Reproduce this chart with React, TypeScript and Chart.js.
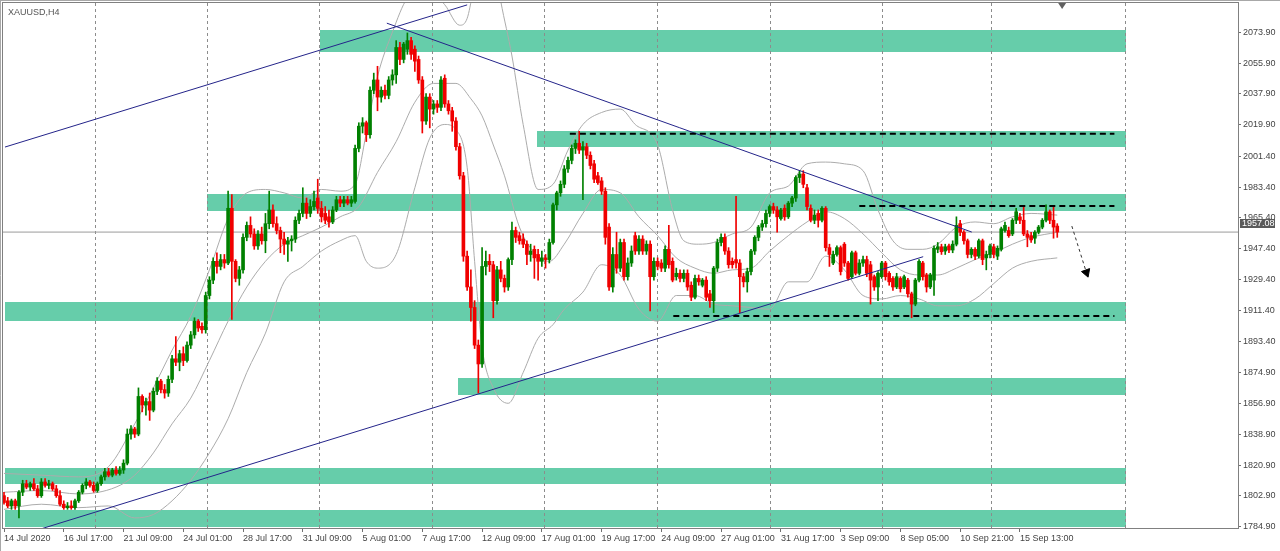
import React, { useEffect, useRef } from "react";
import { Chart, registerables } from "chart.js";

Chart.register(...registerables);

// ---------- axis data ----------
const tickIndex = [0, 16, 32, 48, 64, 80, 96, 112, 128, 144, 160, 176, 192, 208, 224, 240, 256, 272];
const tickLabels = [
  "14 Jul 2020", "16 Jul 17:00", "21 Jul 09:00", "24 Jul 01:00", "28 Jul 17:00", "31 Jul 09:00",
  "5 Aug 01:00", "7 Aug 17:00", "12 Aug 09:00", "17 Aug 01:00", "19 Aug 17:00", "24 Aug 09:00",
  "27 Aug 01:00", "31 Aug 17:00", "3 Sep 09:00", "8 Sep 05:00", "10 Sep 21:00", "15 Sep 13:00",
];
const gridIndex = [24.5, 54.4, 84.6, 114.7, 144.7, 175.0, 205.1, 235.3, 264.3, 300.4];
const priceTicks = [
  2073.9, 2055.9, 2037.9, 2019.9, 2001.4, 1983.4, 1965.4, 1947.4, 1929.4,
  1911.4, 1893.4, 1874.9, 1856.9, 1838.9, 1820.9, 1802.9, 1784.9,
];
const lastPrice = 1957.08;
const xRange = [-0.27, 330.39];
const yRange = [1784.1, 2091.0];

// ---------- candles: [open, high, low, close] per H4 bar ----------
const candles = [
  [1803,1805,1798,1799],[1800,1802,1796,1797],[1797,1801,1795,1800],[1800,1801,1795,1797],[1797,1806,1790,1805],[1805,1812,1803,1810],[1810,1812,1807,1808],[1808,1811,1806,1810],[1810,1813,1806,1807],[1807,1809,1802,1803],
  [1803,1813,1802,1811],[1811,1813,1808,1809],[1809,1812,1807,1810],[1810,1811,1806,1807],[1807,1809,1802,1803],[1803,1806,1797,1798],[1798,1800,1795,1796],[1796,1799,1795,1797],[1797,1800,1795,1796],[1796,1801,1795,1800],
  [1800,1806,1799,1805],[1805,1810,1804,1809],[1809,1813,1807,1811],[1811,1812,1808,1809],[1809,1811,1805,1806],[1806,1811,1805,1810],[1810,1815,1809,1814],[1814,1819,1812,1817],[1817,1819,1814,1815],[1815,1819,1814,1818],
  [1818,1820,1815,1816],[1816,1820,1815,1818],[1818,1824,1816,1822],[1822,1842,1821,1839],[1839,1844,1836,1842],[1842,1843,1837,1839],[1839,1866,1838,1861],[1861,1862,1852,1856],[1856,1860,1850,1858],[1858,1863,1847,1853],
  [1853,1866,1852,1864],[1864,1872,1862,1870],[1870,1871,1863,1865],[1865,1868,1860,1863],[1863,1873,1861,1871],[1871,1885,1869,1883],[1883,1896,1879,1881],[1881,1888,1876,1886],[1886,1890,1879,1882],[1882,1893,1881,1891],
  [1891,1899,1889,1897],[1897,1907,1895,1905],[1905,1906,1899,1901],[1902,1904,1898,1900],[1900,1922,1898,1920],[1920,1931,1918,1929],[1929,1942,1927,1940],[1940,1945,1933,1937],[1937,1944,1935,1941],[1941,1944,1936,1939],
  [1939,1981,1938,1971],[1971,1979,1906,1940],[1940,1941,1928,1930],[1930,1937,1926,1935],[1935,1956,1933,1954],[1954,1963,1952,1961],[1961,1966,1954,1956],[1956,1959,1947,1949],[1949,1958,1947,1956],[1956,1960,1950,1952],
  [1952,1968,1945,1962],[1962,1981,1959,1970],[1970,1973,1960,1962],[1962,1966,1956,1958],[1958,1960,1945,1953],[1953,1957,1944,1950],[1950,1954,1940,1952],[1952,1955,1946,1953],[1953,1966,1951,1964],[1964,1970,1962,1968],
  [1968,1983,1966,1974],[1974,1977,1965,1968],[1968,1976,1966,1972],[1972,1981,1970,1975],[1977,1988,1968,1971],[1971,1975,1963,1966],[1968,1972,1962,1964],[1966,1970,1960,1963],[1963,1972,1962,1970],[1970,1978,1969,1976],
  [1976,1978,1972,1974],[1974,1978,1972,1976],[1976,1978,1973,1974],[1974,1978,1972,1976],[1975,2008,1974,2006],[2006,2021,2004,2019],[2019,2024,2015,2021],[2021,2022,2010,2014],[2014,2042,2012,2040],[2040,2050,2038,2046],
  [2046,2054,2028,2036],[2036,2042,2033,2040],[2040,2043,2035,2037],[2037,2048,2035,2046],[2046,2052,2043,2049],[2049,2069,2044,2065],[2065,2068,2055,2058],[2058,2068,2056,2067],[2064,2073.5,2061,2069],[2069,2071,2058,2061],
  [2064,2066,2051,2057],[2058,2060,2044,2046],[2046,2048,2015,2022],[2022,2038,2020,2036],[2036,2038,2018,2029],[2029,2034,2026,2032],[2032,2034,2027,2030],[2030,2048,2028,2046],[2047,2049,2030,2032],[2032,2034,2026,2028],
  [2028,2030,2016,2022],[2022,2024,2005,2007],[2007,2009,1988,1990],[1990,1992,1940,1943],[1943,1946,1923,1925],[1925,1935,1905,1913],[1913,1917,1889,1891],[1891,1894,1863,1880],[1880,1948,1878,1937],[1937,1946,1932,1940],
  [1940,1944,1934,1938],[1938,1940,1907,1917],[1917,1937,1915,1935],[1935,1940,1928,1930],[1930,1932,1922,1925],[1925,1942,1923,1941],[1941,1963,1938,1958],[1958,1960,1951,1954],[1955,1957,1950,1952],[1953,1956,1948,1950],
  [1950,1952,1938,1944],[1944,1950,1940,1946],[1947,1949,1930,1942],[1944,1947,1929,1940],[1940,1946,1937,1942],[1942,1944,1936,1941],[1941,1953,1939,1951],[1951,1974,1950,1973],[1973,1981,1970,1980],[1980,1987,1978,1985],
  [1985,1996,1983,1994],[1994,2001,1992,1999],[1999,2008,1997,2006],[2006,2011,2003,2009],[2009,2016,2003,2005],[2005,2010,1976,2007],[2007,2009,2000,2002],[2002,2004,1994,1996],[1997,1999,1986,1988],[1990,1992,1985,1986],
  [1987,1989,1979,1981],[1981,1983,1950,1954],[1960,1962,1923,1925],[1925,1948,1922,1944],[1944,1957,1933,1936],[1936,1953,1934,1951],[1951,1953,1929,1931],[1931,1942,1929,1939],[1939,1949,1937,1946],[1955,1957,1944,1946],
  [1946,1955,1944,1953],[1953,1955,1944,1946],[1946,1952,1944,1950],[1950,1952,1911,1931],[1931,1942,1929,1940],[1940,1942,1935,1937],[1939,1941,1934,1936],[1936,1949,1934,1947],[1947,1961,1936,1938],[1940,1942,1928,1929],
  [1931,1936,1929,1933],[1933,1935,1928,1930],[1930,1935,1928,1933],[1933,1935,1923,1925],[1926,1928,1917,1919],[1919,1932,1918,1930],[1930,1932,1926,1928],[1926,1930,1925,1929],[1929,1931,1917,1919],[1921,1923,1913,1917],
  [1917,1937,1910,1936],[1936,1953,1934,1951],[1951,1956,1949,1954],[1954,1956,1944,1946],[1946,1948,1936,1938],[1940,1942,1936,1938],[1941,1978,1936,1939],[1939,1941,1910,1931],[1931,1933,1925,1928],[1928,1936,1922,1934],
  [1934,1947,1932,1946],[1946,1955,1944,1954],[1954,1961,1952,1960],[1960,1964,1958,1962],[1962,1970,1960,1968],[1968,1973,1966,1972],[1972,1974,1968,1970],[1970,1972,1957,1966],[1965,1971,1964,1970],[1971,1973,1964,1966],
  [1966,1975,1965,1974],[1974,1978,1972,1977],[1977,1990,1975,1989],[1989,1993,1986,1991],[1991,1993,1983,1985],[1983,1985,1970,1972],[1971,1973,1963,1964],[1964,1970,1962,1967],[1968,1970,1960,1964],[1964,1972,1963,1971],
  [1971,1972,1946,1948],[1948,1950,1937,1944],[1939,1946,1938,1944],[1944,1949,1943,1948],[1948,1949,1932,1934],[1950,1951,1937,1939],[1939,1940,1929,1930],[1931,1946,1930,1945],[1945,1946,1932,1933],[1933,1941,1932,1939],
  [1939,1943,1937,1941],[1941,1943,1931,1933],[1938,1940,1915,1929],[1931,1932,1923,1925],[1925,1934,1917,1933],[1931,1940,1930,1939],[1939,1940,1929,1931],[1933,1934,1926,1928],[1930,1931,1923,1925],[1925,1933,1924,1931],
  [1930,1931,1922,1924],[1925,1932,1924,1931],[1929,1930,1919,1921],[1921,1922,1907,1915],[1915,1930,1914,1929],[1929,1941,1928,1940],[1939,1940,1929,1931],[1932,1933,1922,1925],[1925,1933,1924,1932],[1929,1949,1920,1947.6],
  [1947,1951,1945,1948.5],[1948.5,1950,1944,1945.6],[1946,1950,1944,1948.5],[1949,1950,1945,1946.6],[1946.6,1952,1945,1950],[1950,1966,1949,1961],[1962,1964,1955,1957],[1957,1958,1950,1952],[1952,1953,1942,1944],[1944,1948,1942,1947],
  [1947,1948,1941,1943],[1943,1953,1942,1952],[1952,1953,1938,1941],[1942,1946,1935,1944],[1944,1950,1942,1949],[1948.5,1950,1942,1944],[1943,1949,1941,1947.6],[1947,1960,1946,1959],[1958,1963,1957,1961],[1958,1960,1954,1955],
  [1956,1965,1955,1964],[1964,1971,1962,1969],[1966,1968,1962,1964],[1964,1972,1955,1956],[1956,1958,1948.5,1954],[1955,1957,1951,1952.5],[1953.5,1958,1950.5,1957],[1957,1961,1956,1960],[1960,1965,1959,1964],[1964,1973,1963,1969],
  [1969,1970,1962,1964],[1964,1972,1953.5,1960],[1960.6,1962,1954,1957.08],
];

// ---------- Bollinger bands (read at sparse bars): [bar, price] ----------
const bbUpper = [
  [0,1816],[10,1815],[20,1814],[28,1820],[35,1845],[40,1866],[45,1888],[50,1908],[55,1935],[60,1965],
  [65,1980],[70,1982],[75,1980],[80,1977],[85,1982],[90,1981],[94,1985],[97,2015],[100,2048],[104,2074],
  [108,2094],[113,2100],[118,2090],[122,2078],[124,2082],[127,2115],[130,2130],[133,2092],[136,2060],[139,2020],
  [143,1982],[147,1985],[151,2005],[155,2020],[160,2027],[165,2029],[169,2020],[175,2008],[179,1970],[182,1952],
  [186,1950],[190,1951],[195,1956],[200,1960],[205,1980],[210,1984],[215,1997],[220,1998],[225,1997],[230,1993],
  [234,1970],[238,1952],[242,1947],[246,1947],[250,1950],[255,1960],[260,1963],[265,1962],[270,1966],[275,1968],[282,1967],
];
const bbMiddle = [
  [0,1805],[10,1806],[20,1804],[30,1808],[35,1815],[40,1828],[45,1845],[50,1860],[55,1882],[60,1905],
  [65,1925],[70,1940],[75,1950],[80,1955],[85,1960],[90,1966],[95,1972],[100,1992],[105,2010],[110,2033],
  [115,2044],[121,2044],[125,2035],[128,2025],[131,2008],[134,1990],[138,1960],[142,1945],[146,1940],[150,1950],
  [155,1968],[160,1982],[165,1980],[170,1966],[175,1955],[180,1942],[185,1936],[190,1933],[195,1935],[200,1936],
  [205,1946],[210,1955],[215,1963],[220,1969],[225,1965],[230,1956],[235,1945],[240,1935],[245,1932],[250,1932],
  [255,1936],[260,1941],[265,1945],[270,1950],[275,1954],[282,1957],
];
const bbLower = [
  [0,1795],[10,1798],[20,1796],[28,1797],[35,1790],[40,1792],[45,1800],[50,1812],[55,1828],[60,1848],
  [65,1875],[70,1898],[75,1928],[80,1937],[85,1946],[90,1952],[94,1955],[97,1940],[100,1936],[105,1944],
  [110,1983],[114,2012],[118,2020],[121,2017],[124,1995],[126,1940],[128,1890],[131,1866],[135,1857],[139,1875],
  [143,1895],[147,1903],[150,1912],[155,1922],[160,1938],[165,1932],[170,1912],[175,1905],[180,1920],[185,1920],
  [190,1915],[195,1914],[200,1913],[205,1912],[210,1928],[215,1928],[220,1943],[225,1935],[230,1920],[235,1918],
  [240,1920],[245,1918],[250,1914],[255,1914],[260,1918],[265,1927],[270,1936],[275,1940],[282,1942],
];

// ---------- drawn objects ----------
// zones: [fromBar, toBar, lowPrice, highPrice]
const zones = [
  [84.6, 300.4, 2062.6, 2075.2],
  [142.7, 300.4, 2007.0, 2016.4],
  [54.4, 300.4, 1969.6, 1979.3],
  [0.3, 300.4, 1905.2, 1916.4],
  [121.6, 300.4, 1861.8, 1871.6],
  [0.3, 300.4, 1810.1, 1818.9],
  [0.3, 300.4, 1784.8, 1794.5],
];
const trendUpper = [[0.27, 2006.8], [124.0, 2089.9]];
const trendDown = [[102.5, 2079.2], [259.1, 1957.1]];
const trendLower = [[8.75, 1782.8], [246.1, 1942.7]];
// dashed levels: [fromBar, toBar, price]
const levelLines = [
  [151.5, 297.3, 2014.6],
  [229.0, 297.3, 1972.3],
  [179.2, 297.3, 1908.0],
];
const arrowPath = [[285.9, 1960.6], [289.8, 1933.5]];

const UP = "#008000";
const DOWN = "#f00000";
const ZONE = "#66cdaa";
const TREND = "#24248a";
const BAND = "#acacac";
const FONT = '"Liberation Sans", Arial, sans-serif';

const pts = (arr: number[][]) => arr.map(([x, y]) => ({ x, y }));

const overlay = {
  id: "overlay",
  beforeDraw(chart: any) {
    const { ctx, chartArea: ca, scales } = chart;
    const x = scales.x;
    const y = scales.y;
    ctx.save();
    ctx.fillStyle = "#ffffff";
    ctx.fillRect(0, 0, chart.width, chart.height);
    ctx.beginPath();
    ctx.rect(ca.left, ca.top, ca.right - ca.left, ca.bottom - ca.top);
    ctx.clip();
    ctx.fillStyle = ZONE;
    for (const [x0, x1, lo, hi] of zones) {
      const px0 = Math.round(x.getPixelForValue(x0));
      const px1 = Math.round(x.getPixelForValue(x1));
      const py0 = Math.round(y.getPixelForValue(hi));
      const py1 = Math.round(y.getPixelForValue(lo));
      ctx.fillRect(px0, py0, px1 - px0, py1 - py0);
    }
    ctx.restore();
  },
  afterDraw(chart: any) {
    const { ctx, chartArea: ca, scales } = chart;
    const x = scales.x;
    const y = scales.y;
    ctx.save();
    // frame
    ctx.strokeStyle = "#808080";
    ctx.lineWidth = 1;
    ctx.strokeRect(ca.left - 0.5, ca.top - 0.5, ca.right - ca.left + 1, ca.bottom - ca.top + 1);
    ctx.strokeStyle = "#a8a8a8";
    ctx.beginPath();
    ctx.moveTo(0, 0.5);
    ctx.lineTo(chart.width, 0.5);
    ctx.moveTo(0.5, 0);
    ctx.lineTo(0.5, chart.height);
    ctx.stroke();
    // symbol title
    ctx.fillStyle = "#555";
    ctx.font = `9px ${FONT}`;
    ctx.textBaseline = "alphabetic";
    ctx.textAlign = "left";
    ctx.fillText("XAUUSD,H4", 8, 15);
    // last price box
    const py = Math.round(y.getPixelForValue(lastPrice));
    ctx.fillStyle = "#5a5a5a";
    ctx.fillRect(ca.right + 2, py - 13, 35, 9);
    ctx.fillStyle = "#ffffff";
    ctx.textBaseline = "middle";
    ctx.fillText(lastPrice.toFixed(2), ca.right + 4, py - 8.5);
    // chart shift marker
    const sx = x.getPixelForValue(candles.length + 0.3);
    ctx.fillStyle = "#606060";
    ctx.beginPath();
    ctx.moveTo(sx - 4, ca.top);
    ctx.lineTo(sx + 4, ca.top);
    ctx.lineTo(sx, ca.top + 6);
    ctx.closePath();
    ctx.fill();
    ctx.restore();
  },
};

export default function App() {
  const ref = useRef<HTMLCanvasElement | null>(null);

  useEffect(() => {
    const canvas = ref.current;
    if (!canvas) return;

    const line = (data: any[], color: string, width: number, order: number, extra: any = {}) => ({
      type: "line",
      data,
      borderColor: color,
      borderWidth: width,
      pointRadius: 0,
      pointHoverRadius: 0,
      fill: false,
      tension: 0,
      xAxisID: "x",
      yAxisID: "y",
      order,
      ...extra,
    });

    const colors = candles.map((c) => (c[3] >= c[0] ? UP : DOWN));

    const datasets: any[] = [
      ...levelLines.map(([a, b, p]) =>
        line([{ x: a, y: p }, { x: b, y: p }], "#000000", 2, 0, { borderDash: [6, 4] })
      ),
      line(pts(trendUpper), TREND, 1, 0),
      line(pts(trendDown), TREND, 1, 0),
      line(pts(trendLower), TREND, 1, 0),
      line(pts(arrowPath), "#333333", 1, 0, {
        borderDash: [3, 3],
        pointRadius: [0, 5],
        pointStyle: "triangle",
        pointRotation: [0, 160],
        pointBackgroundColor: "#000000",
        pointBorderColor: "#000000",
        pointBorderWidth: 1,
      }),
      {
        type: "bar",
        data: candles.map((c, i) => ({ x: i, y: [c[0], c[3]] })),
        backgroundColor: colors,
        borderWidth: 0,
        barThickness: 3,
        minBarLength: 1,
        grouped: false,
        xAxisID: "x",
        yAxisID: "y",
        order: 2,
      },
      {
        type: "bar",
        data: candles.map((c, i) => ({ x: i, y: [c[2], c[1]] })),
        backgroundColor: colors,
        borderWidth: 0,
        barThickness: 1,
        grouped: false,
        xAxisID: "x",
        yAxisID: "y",
        order: 3,
      },
      line(pts(bbUpper), BAND, 1, 4, { cubicInterpolationMode: "monotone" }),
      line(pts(bbMiddle), BAND, 1, 4, { cubicInterpolationMode: "monotone" }),
      line(pts(bbLower), BAND, 1, 4, { cubicInterpolationMode: "monotone" }),
      line(
        [{ x: xRange[0], y: lastPrice }, { x: xRange[1], y: lastPrice }],
        "#9a9a9a",
        1,
        5
      ),
    ];

    const chart = new Chart(canvas, {
      type: "bar",
      data: { datasets },
      options: {
        responsive: false,
        animation: false,
        devicePixelRatio: 1,
        layout: { autoPadding: false, padding: { left: 3, top: 3, right: 0, bottom: 0 } },
        plugins: { legend: { display: false }, tooltip: { enabled: false } },
        events: [],
        font: { family: FONT },
        scales: {
          x: {
            type: "linear",
            position: "bottom",
            min: xRange[0],
            max: xRange[1],
            bounds: "data",
            offset: false,
            afterBuildTicks: (s: any) => {
              s.ticks = tickIndex.map((v) => ({ value: v }));
            },
            afterFit: (s: any) => {
              s.height = 23;
              s.paddingLeft = 0;
              s.paddingRight = 0;
            },
            ticks: {
              autoSkip: false,
              maxRotation: 0,
              minRotation: 0,
              align: "start",
              padding: 1,
              color: "#444",
              font: { size: 9, family: FONT },
              callback: (v: any) => {
                const k = tickIndex.indexOf(Number(v));
                return k >= 0 ? tickLabels[k] : "";
              },
            },
            grid: { drawOnChartArea: false, drawTicks: true, tickLength: 4, tickColor: "#707070", offset: false },
            border: { color: "#808080" },
          },
          x2: {
            type: "linear",
            position: "top",
            min: xRange[0],
            max: xRange[1],
            bounds: "data",
            offset: false,
            afterBuildTicks: (s: any) => {
              s.ticks = gridIndex.map((v) => ({ value: v }));
            },
            afterFit: (s: any) => {
              s.height = 0;
              s.paddingLeft = 0;
              s.paddingRight = 0;
            },
            ticks: { display: false },
            grid: { drawOnChartArea: true, drawTicks: false, color: "#8c8c8c", lineWidth: 1, offset: false },
            border: { display: false, dash: [3, 3] },
          },
          y: {
            type: "linear",
            position: "right",
            min: yRange[0],
            max: yRange[1],
            bounds: "data",
            afterBuildTicks: (s: any) => {
              s.ticks = priceTicks.map((v) => ({ value: v }));
            },
            afterFit: (s: any) => {
              s.width = 42;
              s.paddingTop = 0;
              s.paddingBottom = 0;
            },
            ticks: {
              autoSkip: false,
              padding: 2,
              color: "#444",
              font: { size: 9, family: FONT },
              callback: (v: any) => Number(v).toFixed(2),
            },
            grid: { drawOnChartArea: false, drawTicks: true, tickLength: 3, tickColor: "#707070" },
            border: { color: "#808080" },
          },
        },
      } as any,
      plugins: [overlay],
    } as any);

    return () => chart.destroy();
  }, []);

  return (
    <div style={{ position: "fixed", left: 0, top: 0, width: 1280, height: 551, background: "#fff" }}>
      <canvas ref={ref} width={1280} height={551} style={{ display: "block" }} />
    </div>
  );
}
